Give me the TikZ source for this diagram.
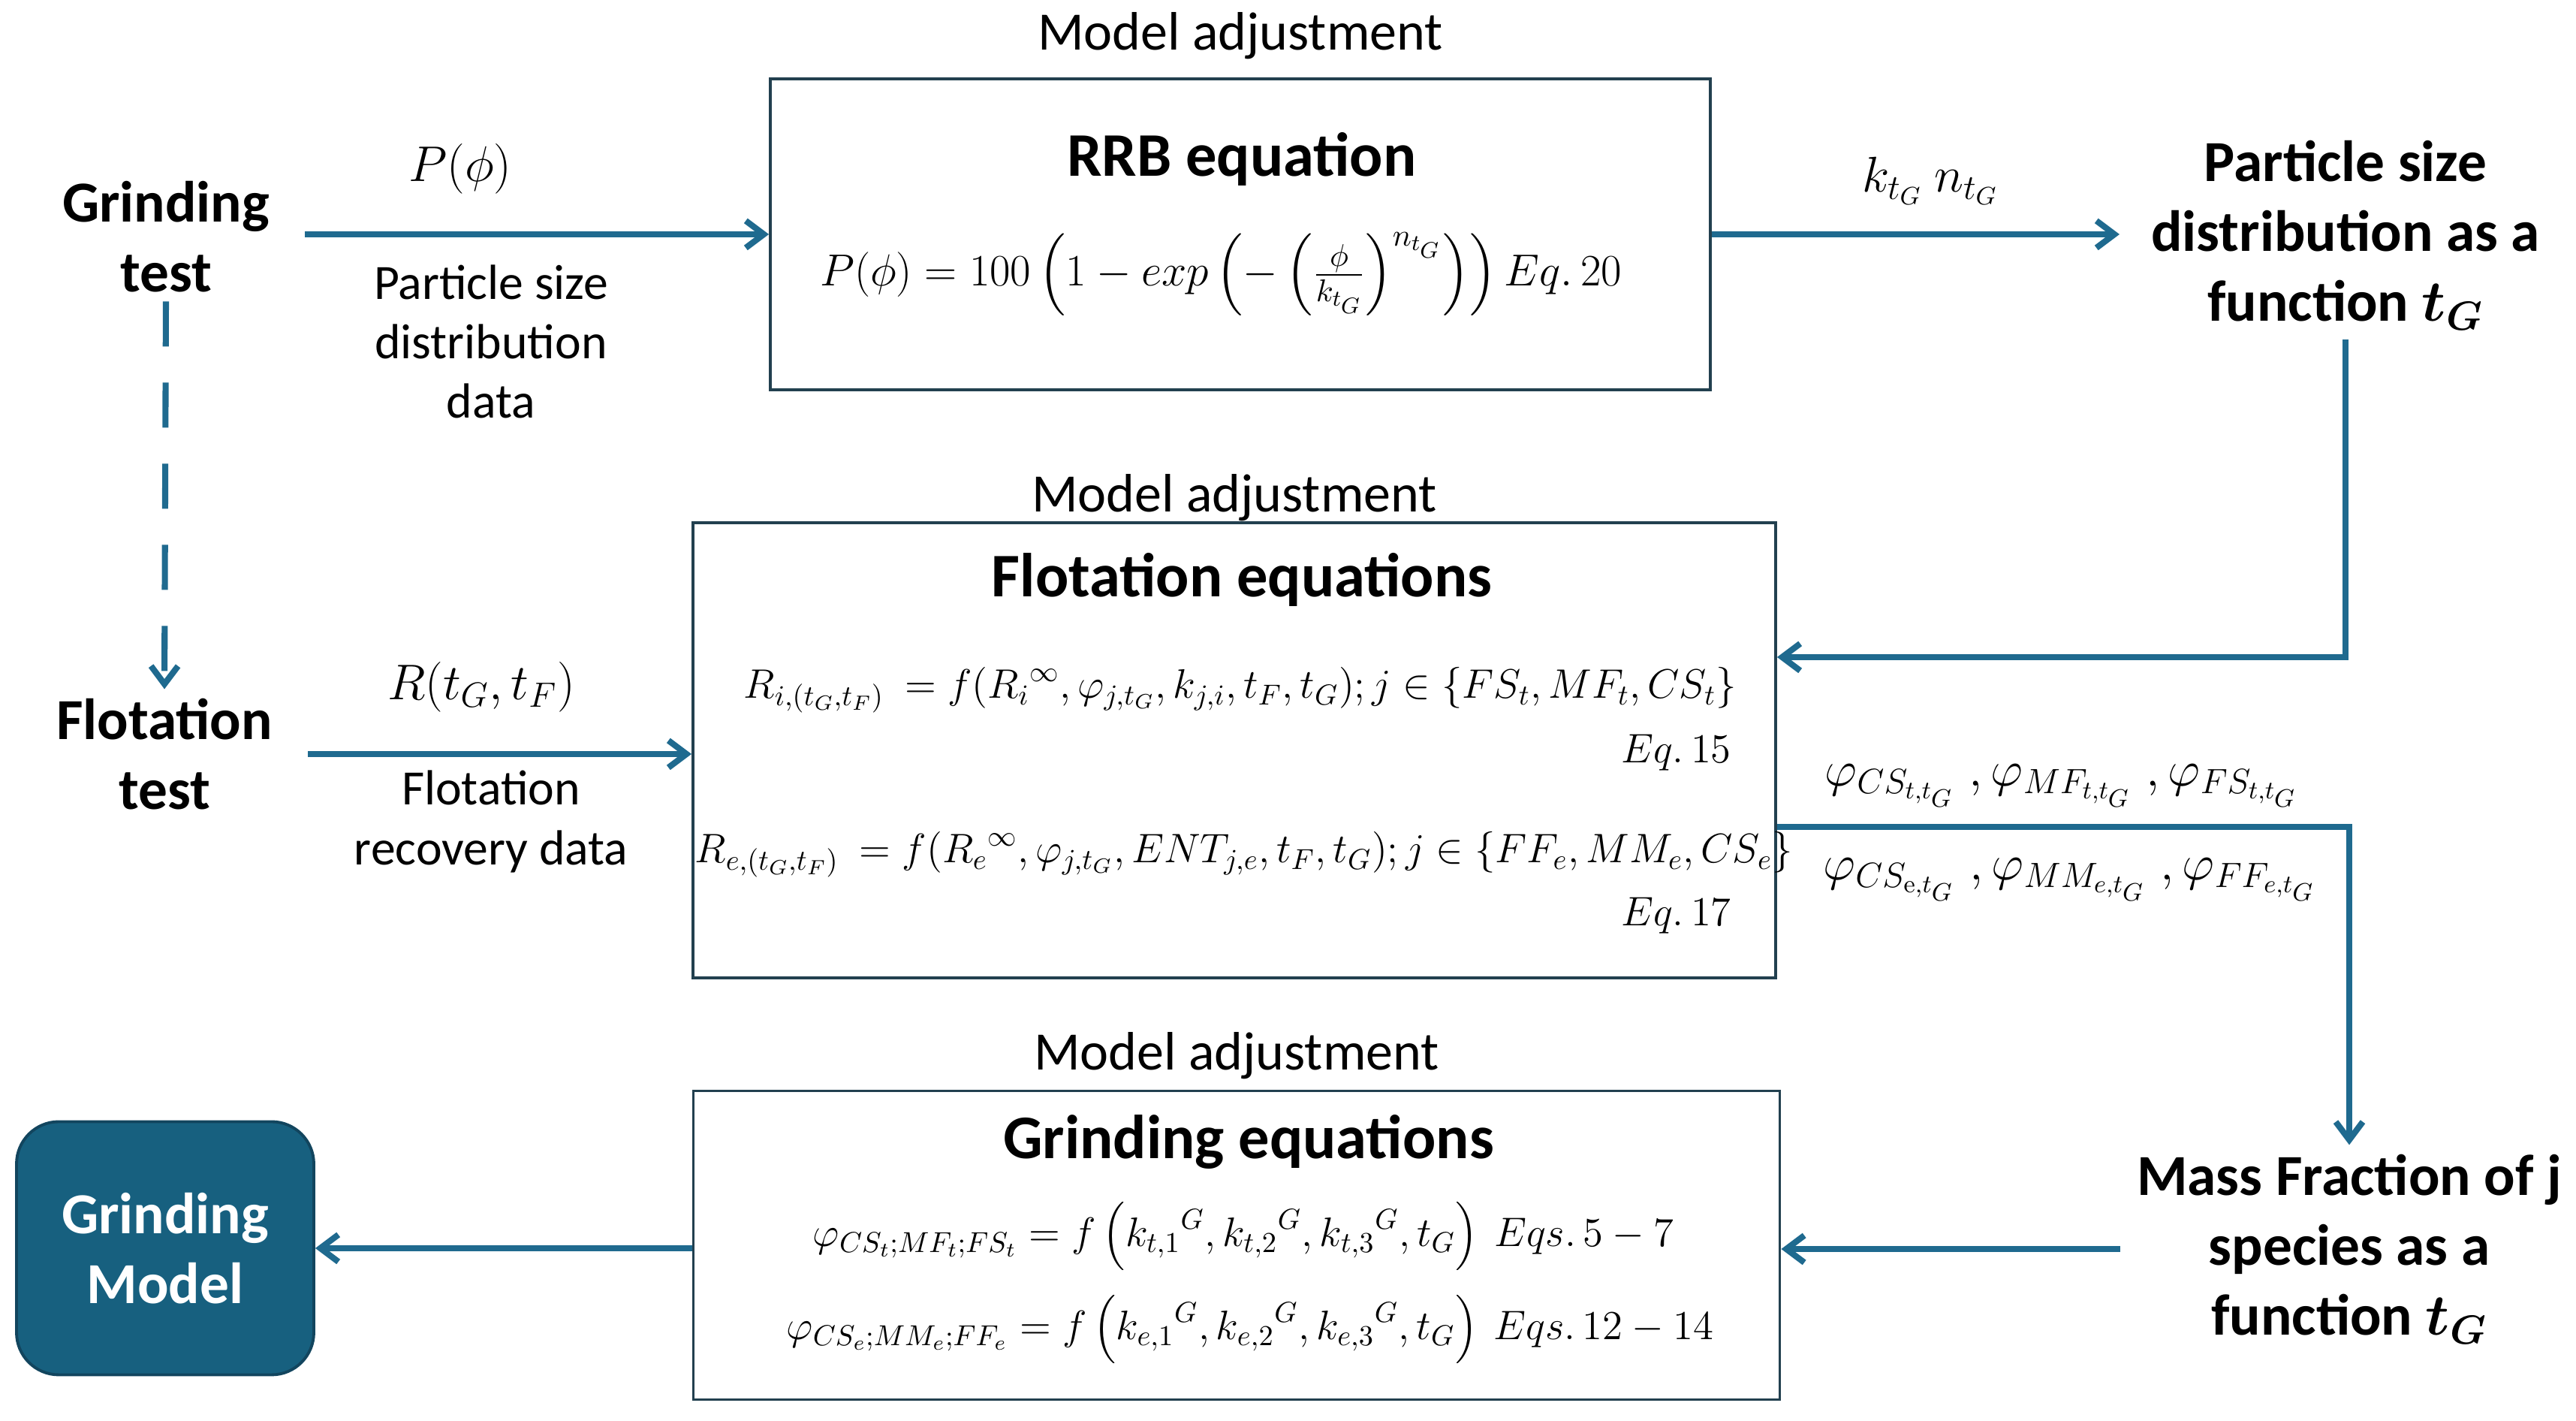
\documentclass[tikz,border=0pt]{standalone}
\usepackage{fix-cm}
\usepackage{amsmath}
\usepackage[no-math]{fontspec}
\setmainfont{Carlito}
\usetikzlibrary{arrows.meta,positioning}
\definecolor{FlowBlue}{HTML}{1F6A8F}
\definecolor{ModelTeal}{HTML}{17607F}
\definecolor{ModelEdge}{HTML}{12455E}
\definecolor{BoxEdge}{HTML}{22404F}
\tikzset{
  flowarrow/.style={-{Straight Barb[length=2.4mm,width=3.6mm]},line width=2.3pt,draw=FlowBlue},
  testarrow/.style={flowarrow,dash pattern=on 6mm off 4.8mm},
  eqbox/.style={draw=BoxEdge,line width=1.1pt,fill=white},
  stage/.style={align=center,font=\fontsize{22}{26.5}\selectfont\bfseries},
  datanote/.style={align=center,font=\fontsize{18.7}{22.5}\selectfont},
  adjnote/.style={font=\fontsize{20.5}{24}\selectfont},
  boxtitle/.style={inner sep=1pt,font=\fontsize{23.5}{28}\selectfont\bfseries},
  eqn/.style={font=\fontsize{19}{23}\selectfont},
  boxeqn/.style={inner sep=1pt,font=\fontsize{15.6}{19}\selectfont},
  gmodel/.style={draw=ModelEdge,line width=1.1pt,fill=ModelTeal,rounded corners=16pt,text=white,align=center,minimum width=3.96cm,minimum height=3.37cm,font=\fontsize{22}{26.5}\selectfont\bfseries}
}

\begin{document}
\begin{tikzpicture}
  \useasboundingbox (0,0) rectangle (34.31,18.92);

  \node[eqbox,minimum width=12.52cm,minimum height=4.14cm] (rrb) at (16.52,15.80) {};
  \node[eqbox,minimum width=14.42cm,minimum height=6.06cm] (flot) at (16.44,8.93) {};
  \node[eqbox,minimum width=14.47cm,minimum height=4.11cm] (grind) at (16.47,2.34) {};
  \node[gmodel] (model) at (2.20,2.30) {Grinding\\Model};

  \node[adjnote,above=0.12cm of rrb] (adjrrb) {Model adjustment};
  \node[adjnote,above=-0.12cm of flot] (adjflot) {Model adjustment};
  \node[adjnote,above=0.01cm of grind] (adjgrind) {Model adjustment};

  \node[boxtitle] (rrbtitle) at (16.54,16.80) {RRB equation};
  \node[boxeqn,font=\fontsize{17}{20}\selectfont] (rrbeq) at (16.26,15.27)
    {$P(\phi) = 100\left(1-exp\left(-\left(\frac{\phi}{k_{t_G}}\right)^{n_{t_G}}\right)\right) Eq.\,20$};

  \node[boxtitle] (flottitle) at (16.54,11.20) {Flotation equations};
  \node[boxeqn] (floteqi) at (16.52,9.73)
    {$R_{i,(t_G,t_F)}\ = f({R_i}^{\infty},\varphi_{j,t_G},k_{j,i},t_F,t_G); j\in\{FS_t,MF_t,CS_t\}$};
  \node[boxeqn,anchor=east] (flotnoi) at (23.10,8.90) {$Eq.\,15$};
  \node[boxeqn] (floteqe) at (16.57,7.54)
    {$R_{e,(t_G,t_F)}\ = f({R_e}^{\infty},\varphi_{j,t_G},ENT_{j,e},t_F,t_G); j\in\{FF_e,MM_e,CS_e\}$};
  \node[boxeqn,anchor=east] (flotnoe) at (23.10,6.73) {$Eq.\,17$};

  \node[boxtitle] (grindtitle) at (16.63,3.72) {Grinding equations};
  \node[boxeqn] (grindeqt) at (16.56,2.46)
    {$\varphi_{CS_t;MF_t;FS_t} = f\left({k_{t,1}}^{G},{k_{t,2}}^{G},{k_{t,3}}^{G},t_G\right)\ Eqs.\,5-7$};
  \node[boxeqn] (grindeqe) at (16.65,1.22)
    {$\varphi_{CS_e;MM_e;FF_e} = f\left({k_{e,1}}^{G},{k_{e,2}}^{G},{k_{e,3}}^{G},t_G\right)\ Eqs.\,12-14$};

  \node[stage] (gtest) at (2.21,15.77) {Grinding\\test};
  \node[stage] (ftest) at (2.19,8.88) {Flotation\\test};
  \node[stage] (psd) at (31.24,15.79) {Particle size\\distribution as a\\function $\boldsymbol{t_G}$};
  \node[stage] (mass) at (31.29,2.29) {Mass Fraction of j\\species as a\\function $\boldsymbol{t_G}$};

  \node[eqn] (pphi) at (6.13,16.67) {$P(\phi)$};
  \node[datanote] (psdata) at (6.54,14.37) {Particle size\\distribution\\data};
  \node[eqn] (kn) at (25.71,16.51) {$k_{t_G}\ n_{t_G}$};
  \node[eqn] (rtt) at (6.41,9.77) {$R(t_G,t_F)$};
  \node[datanote] (recdata) at (6.54,7.98) {Flotation\\recovery data};
  \node[eqn] (phit) at (27.46,8.46)
    {$\varphi_{CS_{t,t_G}}\;,\varphi_{MF_{t,t_G}}\;,\varphi_{FS_{t,t_G}}$};
  \node[eqn] (phie) at (27.57,7.21)
    {$\varphi_{CS_{\mathrm{e},t_G}}\;,\varphi_{MM_{e,t_G}}\;,\varphi_{FF_{e,t_G}}$};

  \draw[flowarrow,shorten <=0.35cm] (rrb.west -| gtest.east) -- (rrb.west);
  \draw[flowarrow,shorten >=0.3cm] (rrb.east) -- (rrb.east -| psd.west);
  \draw[flowarrow] (psd.south) |- ([yshift=1.24cm]flot.east);
  \draw[testarrow] (gtest.south) -- (ftest.north);
  \draw[flowarrow,shorten <=0.35cm] (ftest.east) -- (ftest.east -| flot.west);
  \draw[flowarrow] ([yshift=-1.02cm]flot.east) -| (mass.north);
  \draw[flowarrow,shorten <=0.1cm] (mass.west) -- (mass.west -| grind.east);
  \draw[flowarrow] (grind.west |- model.east) -- (model.east);
\end{tikzpicture}
\end{document}
